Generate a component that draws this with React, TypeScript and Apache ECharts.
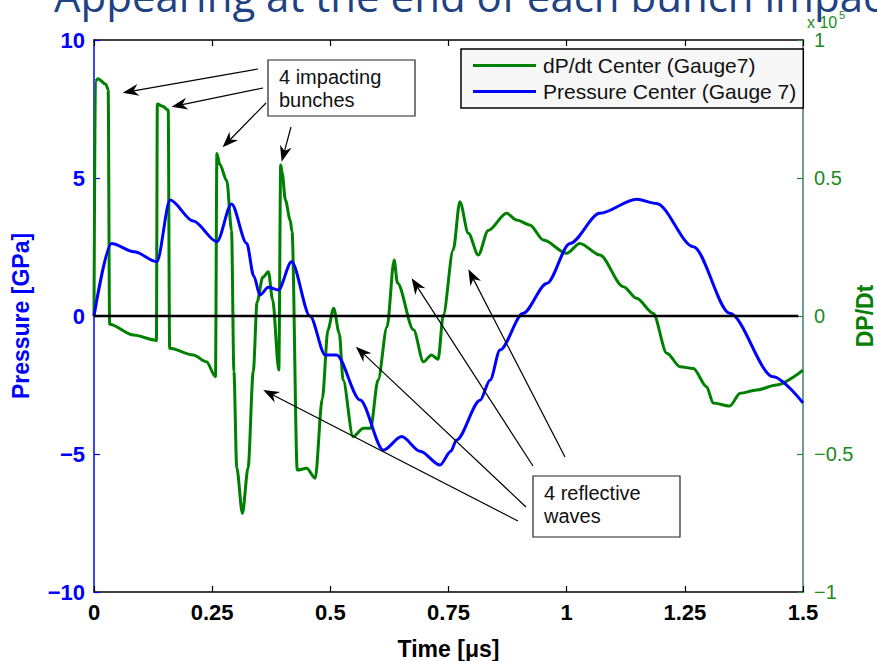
import React, { useEffect, useRef } from 'react';
import * as echarts from 'echarts';

const FONT = "'Liberation Sans', Arial, Helvetica, sans-serif";

// Pressure Center (Gauge 7) [GPa] vs time [µs]
const pressureTime = [0, 0.037, 0.085, 0.133, 0.161, 0.21, 0.26, 0.291, 0.323, 0.338, 0.351, 0.369, 0.39, 0.418, 0.457, 0.489, 0.513, 0.563, 0.612, 0.651, 0.69, 0.732, 0.755, 0.767, 0.817, 0.838, 0.859, 0.908, 0.958, 1.007, 1.07, 1.148, 1.19, 1.268, 1.345, 1.437, 1.5];
const pressureValues = [0, 2.63, 2.33, 1.97, 4.2, 3.44, 2.69, 4.06, 2.64, 1.45, 0.76, 1.04, 0.94, 1.97, 0, -1.41, -1.41, -3.04, -4.86, -4.37, -4.9, -5.4, -4.9, -4.49, -3.05, -2.32, -1.23, 0.1, 1.18, 2.63, 3.72, 4.23, 4.08, 2.51, 0.1, -2.2, -3.15];

// dP/dt Center (Gauge7) [x10^5] vs time [µs]
const dpdtTime = [0, 0.003, 0.008, 0.025, 0.03, 0.033, 0.084, 0.129, 0.132, 0.134, 0.145, 0.157, 0.16, 0.21, 0.238, 0.257, 0.26, 0.266, 0.281, 0.291, 0.296, 0.302, 0.314, 0.326, 0.337, 0.345, 0.357, 0.369, 0.378, 0.391, 0.395, 0.398, 0.405, 0.415, 0.419, 0.43, 0.45, 0.468, 0.483, 0.495, 0.507, 0.519, 0.527, 0.548, 0.57, 0.585, 0.601, 0.62, 0.635, 0.642, 0.676, 0.697, 0.714, 0.728, 0.739, 0.76, 0.774, 0.792, 0.813, 0.834, 0.873, 0.894, 0.922, 0.951, 1.0, 1.028, 1.07, 1.12, 1.148, 1.183, 1.212, 1.24, 1.268, 1.296, 1.31, 1.345, 1.367, 1.402, 1.444, 1.5];
const dpdtValues = [0, 0.85, 0.86, 0.84, 0.82, -0.03, -0.069, -0.087, -0.09, 0.768, 0.76, 0.746, -0.117, -0.141, -0.166, -0.22, 0.589, 0.55, 0.49, 0.31, -0.2, -0.55, -0.715, -0.55, -0.2, 0.05, 0.14, 0.16, 0.058, -0.196, 0.547, 0.52, 0.42, 0.348, 0.305, -0.558, -0.552, -0.588, -0.3, -0.05, 0.028, -0.063, -0.232, -0.437, -0.407, -0.407, -0.232, -0.039, 0.203, 0.12, -0.05, -0.166, -0.141, -0.157, 0.004, 0.24, 0.414, 0.3, 0.221, 0.31, 0.372, 0.348, 0.33, 0.275, 0.227, 0.263, 0.221, 0.106, 0.064, 0.01, -0.135, -0.184, -0.19, -0.256, -0.315, -0.326, -0.28, -0.268, -0.25, -0.196, -0.117];

const zeroLineTime = [0, 1.49];
const zeroLineValues = [0, 0];

// annotation arrow tips (data coords: time, pressure) and tails (pixels)
const impactTips = [[0.0607, 8.09], [0.164, 7.58], [0.272, 6.11], [0.397, 5.59]];
const impactTails = [[258, 69], [263, 88], [266, 103], [291, 127]];
const reflectTips = [[0.358, -2.68], [0.554, -1.11], [0.672, 1.37], [0.792, 1.69]];
const reflectTails = [[518, 521], [526, 507], [533, 466], [565, 457]];

const minus = (v: number) => (v < 0 ? '\u2212' + Math.abs(v) : String(v));

function arrow(x1: number, y1: number, x2: number, y2: number) {
  const dx = x2 - x1, dy = y2 - y1;
  const L = Math.hypot(dx, dy);
  const ux = dx / L, uy = dy / L;
  const nx = -uy, ny = ux;
  const len = 16, hw = 6, notch = 11;
  const bx = x2 - ux * len, by = y2 - uy * len;
  const mx = x2 - ux * notch, my = y2 - uy * notch;
  return [
    { type: 'line', shape: { x1, y1, x2: mx, y2: my }, style: { stroke: '#000', lineWidth: 1.2 }, z: 100 },
    { type: 'polygon', shape: { points: [[x2, y2], [bx + nx * hw, by + ny * hw], [mx, my], [bx - nx * hw, by - ny * hw]] }, style: { fill: '#000' }, z: 100 },
  ];
}

export default function App() {
  const ref = useRef<HTMLDivElement>(null);
  useEffect(() => {
    const chart = echarts.init(ref.current!, null, { renderer: 'svg' });
    const option: any = {
      animation: false,
      backgroundColor: '#fff',
      grid: { left: 94, right: 74, top: 40, bottom: 69, containLabel: false, outerBoundsMode: 'none' },
      legend: {
        data: ['dP/dt Center (Gauge7)', 'Pressure Center (Gauge 7)'],
        orient: 'vertical',
        left: 461,
        top: 49,
        icon: 'rect',
        itemWidth: 63,
        itemHeight: 3,
        itemGap: 5,
        padding: [6, 7, 6, 12],
        backgroundColor: '#f7f7f7',
        borderColor: '#000',
        borderWidth: 1.5,
        textStyle: { fontFamily: FONT, fontSize: 21, color: '#111', padding: [0, 0, 0, 2] },
      },
      xAxis: [
        {
          type: 'value', min: 0, max: 1.5, interval: 0.25, position: 'bottom',
          name: 'Time [\u03bcs]', nameLocation: 'middle', nameGap: 45, nameMoveOverlap: false,
          nameTextStyle: { fontFamily: FONT, fontSize: 23, fontWeight: 'bold', color: '#000' },
          axisLine: { onZero: false, lineStyle: { color: '#000', width: 1.5 } },
          axisTick: { inside: true, length: 6, lineStyle: { color: '#000', width: 1.2 } },
          axisLabel: { fontFamily: FONT, fontSize: 22, fontWeight: 'bold', color: '#000', margin: 9 },
          splitLine: { show: false },
        },
        {
          type: 'value', min: 0, max: 1.5, interval: 0.25, position: 'top',
          axisLine: { onZero: false, lineStyle: { color: '#000', width: 1.5 } },
          axisTick: { inside: true, length: 6, lineStyle: { color: '#000', width: 1.2 } },
          axisLabel: { show: false },
          splitLine: { show: false },
        },
      ],
      yAxis: [
        {
          type: 'value', min: -10, max: 10, interval: 5, position: 'left',
          name: 'Pressure [GPa]', nameLocation: 'middle', nameGap: 62, nameRotate: 90, nameMoveOverlap: false,
          nameTextStyle: { fontFamily: FONT, fontSize: 23, fontWeight: 'bold', color: '#0000ff' },
          axisLine: { onZero: false, lineStyle: { color: '#0000ff', width: 1.5 } },
          axisTick: { inside: true, length: 6, lineStyle: { color: '#0000ff', width: 1.2 } },
          axisLabel: { fontFamily: FONT, fontSize: 22, fontWeight: 'bold', color: '#0000ff', margin: 9, formatter: minus },
          splitLine: { show: false },
        },
        {
          type: 'value', min: -1, max: 1, interval: 0.5, position: 'right',
          name: 'DP/Dt', nameLocation: 'middle', nameGap: 50, nameRotate: 90, nameMoveOverlap: false,
          nameTextStyle: { fontFamily: FONT, fontSize: 23, fontWeight: 'bold', color: '#088008' },
          axisLine: { onZero: false, lineStyle: { color: '#3d7d70', width: 1.5 } },
          axisTick: { inside: true, length: 6, lineStyle: { color: '#2a8a2a', width: 1.2 } },
          axisLabel: { fontFamily: FONT, fontSize: 20, color: '#208a20', margin: 11, formatter: minus },
          splitLine: { show: false },
        },
      ],
      series: [
        {
          name: 'dP/dt Center (Gauge7)', type: 'line', yAxisIndex: 1, xAxisIndex: 0,
          data: dpdtTime.map((t, i) => [t, dpdtValues[i]]),
          symbol: 'none', smooth: 0.3, smoothMonotone: 'x',
          lineStyle: { color: '#008000', width: 3 }, itemStyle: { color: '#008000' },
        },
        {
          name: 'Pressure Center (Gauge 7)', type: 'line', yAxisIndex: 0, xAxisIndex: 0,
          data: pressureTime.map((t, i) => [t, pressureValues[i]]),
          symbol: 'none', smooth: 0.3, smoothMonotone: 'x',
          lineStyle: { color: '#0000ff', width: 3 }, itemStyle: { color: '#0000ff' },
        },
        {
          name: 'zero', type: 'line', yAxisIndex: 0, xAxisIndex: 0,
          data: zeroLineTime.map((t, i) => [t, zeroLineValues[i]]),
          symbol: 'none', silent: true, z: 5,
          lineStyle: { color: '#000', width: 2.5 },
        },
      ],
    };
    chart.setOption(option);

    const toPx = (p: number[]) => chart.convertToPixel({ xAxisIndex: 0, yAxisIndex: 0 }, p) as number[];
    const graphics: any[] = [];
    graphics.push({
      type: 'text', x: 54, y: 16, z: 100,
      style: { text: 'Appearing at the end of each bunch impact', font: "42px 'Open Sans', sans-serif", fill: '#1f4283', verticalAlign: 'bottom' },
    });
    graphics.push({ type: 'text', x: 807, y: 30, z: 100, style: { text: 'x 10', font: `16px ${FONT}`, fill: '#1e8a1e', verticalAlign: 'bottom' } });
    graphics.push({ type: 'text', x: 839, y: 20, z: 100, style: { text: '5', font: `11px ${FONT}`, fill: '#1e8a1e', verticalAlign: 'bottom' } });
    graphics.push({ type: 'rect', shape: { x: 268, y: 60, width: 147, height: 56 }, style: { fill: '#fff', stroke: '#222', lineWidth: 1.2 }, z: 99 });
    graphics.push({ type: 'text', x: 279, y: 77, z: 100, style: { text: '4 impacting', font: `20px ${FONT}`, fill: '#111', verticalAlign: 'middle' } });
    graphics.push({ type: 'text', x: 279, y: 100, z: 100, style: { text: 'bunches', font: `20px ${FONT}`, fill: '#111', verticalAlign: 'middle' } });
    graphics.push({ type: 'rect', shape: { x: 533, y: 476, width: 147, height: 61 }, style: { fill: '#fff', stroke: '#222', lineWidth: 1.2 }, z: 99 });
    graphics.push({ type: 'text', x: 544, y: 493, z: 100, style: { text: '4 reflective', font: `20px ${FONT}`, fill: '#111', verticalAlign: 'middle' } });
    graphics.push({ type: 'text', x: 544, y: 516, z: 100, style: { text: 'waves', font: `20px ${FONT}`, fill: '#111', verticalAlign: 'middle' } });
    impactTips.forEach((tip, i) => {
      const [x2, y2] = toPx(tip);
      graphics.push(...arrow(impactTails[i][0], impactTails[i][1], x2, y2));
    });
    reflectTips.forEach((tip, i) => {
      const [x2, y2] = toPx(tip);
      graphics.push(...arrow(reflectTails[i][0], reflectTails[i][1], x2, y2));
    });
    chart.setOption({ graphic: graphics });
    return () => chart.dispose();
  }, []);
  return <div ref={ref} style={{ position: 'fixed', left: 0, top: 0, width: 877, height: 661, background: '#fff' }} />;
}
